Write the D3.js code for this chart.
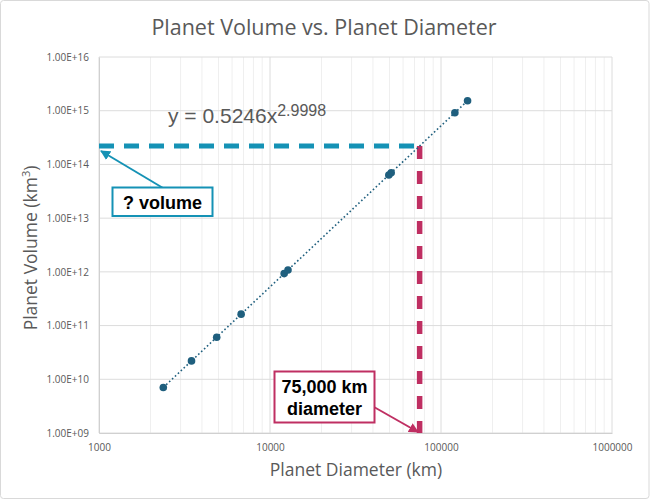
<!DOCTYPE html>
<html><head><meta charset="utf-8">
<script src="https://cdn.jsdelivr.net/npm/d3@7"></script>
<style>
html,body{margin:0;padding:0;background:#fff;}
svg{display:block;font-family:"Open Sans","Noto Sans",sans-serif;}
</style></head>
<body>
<svg id="chart" width="650" height="502"></svg>
<script>
// ---- data ----
const planets   = ["Pluto","Moon","Mercury","Mars","Venus","Earth","Neptune","Uranus","Saturn","Jupiter"];
const diameters = [2377, 3475, 4879, 6779, 12104, 12742, 49528, 51118, 120536, 142984];
const volumes   = [7.03e9, 2.20e10, 6.08e10, 1.63e11, 9.28e11, 1.08e12, 6.36e13, 6.99e13, 9.17e14, 1.53e15];
const xTicks    = [1e3, 1e4, 1e5, 1e6];
const xTickLabels = ["1000","10000","100000","1000000"];
const yTicks    = [1e9, 1e10, 1e11, 1e12, 1e13, 1e14, 1e15, 1e16];
const yTickLabels = ["1.00E+09","1.00E+10","1.00E+11","1.00E+12","1.00E+13","1.00E+14","1.00E+15","1.00E+16"];
const fitCoef = [0.5246];
const fitExp  = [2.9998];
const queryDiameter = [75000];

const W = 650, H = 502;
const m = {left: 99, right: 612, top: 57, bottom: 433};
const svg = d3.select("#chart");

svg.append("rect").attr("x",0.5).attr("y",0.5).attr("width",W-1.5).attr("height",H-4)
  .attr("rx",3).attr("fill","#fff").attr("stroke","#d9d9d9").attr("stroke-width",1);

const x = d3.scaleLog().domain([1e3,1e6]).range([m.left, m.right]);
const y = d3.scaleLog().domain([1e9,1e16]).range([m.bottom, m.top]);

// minor vertical gridlines
const minor = [];
for (let e = 3; e < 6; e++) for (let k = 2; k <= 9; k++) minor.push(k*Math.pow(10,e));
svg.append("g").selectAll("line").data(minor).join("line")
  .attr("x1", d=>x(d)).attr("x2", d=>x(d)).attr("y1", m.top).attr("y2", m.bottom)
  .attr("stroke","#efefef").attr("stroke-width",1);

// major gridlines
svg.append("g").selectAll("line").data(xTicks).join("line")
  .attr("x1", d=>x(d)).attr("x2", d=>x(d)).attr("y1", m.top).attr("y2", m.bottom)
  .attr("stroke","#dcdcdc").attr("stroke-width",1);
svg.append("g").selectAll("line").data(yTicks).join("line")
  .attr("x1", m.left).attr("x2", m.right).attr("y1", d=>y(d)).attr("y2", d=>y(d))
  .attr("stroke","#dcdcdc").attr("stroke-width",1);

// axes (labels via d3 axis)
const xAxis = d3.axisBottom(x).tickValues(xTicks).tickFormat((d,i)=>xTickLabels[i]).tickSize(0).tickPadding(11);
const gx = svg.append("g").attr("transform",`translate(0,${m.bottom})`).call(xAxis);
gx.select(".domain").attr("stroke","#d0d0d0");
gx.selectAll("text").attr("fill","#595959").style("font-size","10px").style("font-family","'Open Sans',sans-serif");

const yAxis = d3.axisLeft(y).tickValues(yTicks).tickFormat((d,i)=>yTickLabels[i]).tickSize(0).tickPadding(10);
const gy = svg.append("g").attr("transform",`translate(${m.left},0)`).call(yAxis);
gy.select(".domain").attr("stroke","#d0d0d0");
gy.selectAll("text").attr("fill","#595959").style("font-size","10px").style("font-family","'Open Sans',sans-serif");

// title & axis titles
svg.append("text").attr("x",324).attr("y",35).attr("text-anchor","middle")
  .attr("fill","#595959").style("font-size","21.5px").text("Planet Volume vs. Planet Diameter");
svg.append("text").attr("x",356).attr("y",476).attr("text-anchor","middle")
  .attr("fill","#595959").style("font-size","17.5px").text("Planet Diameter (km)");
const yt = svg.append("text").attr("transform","translate(37,248) rotate(-90)").attr("text-anchor","middle")
  .attr("fill","#595959").style("font-size","17.5px");
yt.append("tspan").text("Planet Volume (km");
yt.append("tspan").attr("dy",-7).style("font-size","11px").text("3");
yt.append("tspan").attr("dy",7).text(")");

// query annotation lines
const qd = queryDiameter[0];
const qv = fitCoef[0]*Math.pow(qd, fitExp[0]);
svg.append("line").attr("x1",x(1e3)).attr("x2",x(qd)).attr("y1",y(qv)).attr("y2",y(qv))
  .attr("stroke","#1592b5").attr("stroke-width",5).attr("stroke-dasharray","15 10");
svg.append("line").attr("x1",x(qd)).attr("x2",x(qd)).attr("y1",y(qv)).attr("y2",y(1e9))
  .attr("stroke","#bf2f62").attr("stroke-width",5.5).attr("stroke-dasharray","13 12");

// trendline
const dmin = d3.min(diameters), dmax = d3.max(diameters);
const trend = [dmin, dmax].map(d => [d, fitCoef[0]*Math.pow(d, fitExp[0])]);
svg.append("path").datum(trend)
  .attr("d", d3.line().x(d=>x(d[0])).y(d=>y(d[1])))
  .attr("fill","none").attr("stroke","#1f5f7e").attr("stroke-width",1.6)
  .attr("stroke-dasharray","1.6 2.4");

// points
svg.append("g").selectAll("circle").data(diameters).join("circle")
  .attr("cx",(d)=>x(d)).attr("cy",(d,i)=>y(volumes[i])).attr("r",3.8)
  .attr("fill","#1f5f7e");

// equation
const eq = svg.append("text").attr("x",168).attr("y",123).attr("fill","#595959")
  .style("font-family","'Liberation Sans',Arial,sans-serif").style("font-size","21px");
eq.append("tspan").text(`y = ${fitCoef[0]}x`);
eq.append("tspan").attr("dy",-7).style("font-size","16px").text(fitExp[0]);

// arrowheads
const defs = svg.append("defs");
function marker(id, color){
  defs.append("marker").attr("id",id).attr("viewBox","0 0 10 10").attr("refX",9).attr("refY",5)
    .attr("markerWidth",5).attr("markerHeight",5).attr("orient","auto")
    .append("path").attr("d","M0,0 L10,5 L0,10 z").attr("fill",color);
}
marker("arrT","#1592b5");
marker("arrM","#bf2f62");

// "? volume" callout
svg.append("line").attr("x1",163).attr("y1",188).attr("x2",101).attr("y2",151)
  .attr("stroke","#1592b5").attr("stroke-width",2).attr("marker-end","url(#arrT)");
svg.append("rect").attr("x",112.5).attr("y",187.5).attr("width",100).attr("height",28.5)
  .attr("fill","#fff").attr("stroke","#1592b5").attr("stroke-width",2);
svg.append("text").attr("x",162.5).attr("y",208.5).attr("text-anchor","middle")
  .style("font-family","'Liberation Sans',Arial,sans-serif").style("font-weight","bold")
  .style("font-size","18px").attr("fill","#000").text("? volume");

// "75,000 km diameter" callout
svg.append("line").attr("x1",374).attr("y1",407).attr("x2",418).attr("y2",432)
  .attr("stroke","#bf2f62").attr("stroke-width",2).attr("marker-end","url(#arrM)");
svg.append("rect").attr("x",274.5).attr("y",371.5).attr("width",100).attr("height",51)
  .attr("fill","#fff").attr("stroke","#bf2f62").attr("stroke-width",2);
const ct = svg.append("text").attr("text-anchor","middle")
  .style("font-family","'Liberation Sans',Arial,sans-serif").style("font-weight","bold")
  .style("font-size","18px").attr("fill","#000");
ct.append("tspan").attr("x",324.5).attr("y",393).text(d3.format(",")(qd) + " km");
ct.append("tspan").attr("x",324.5).attr("y",415).text("diameter");
</script>
</body></html>
